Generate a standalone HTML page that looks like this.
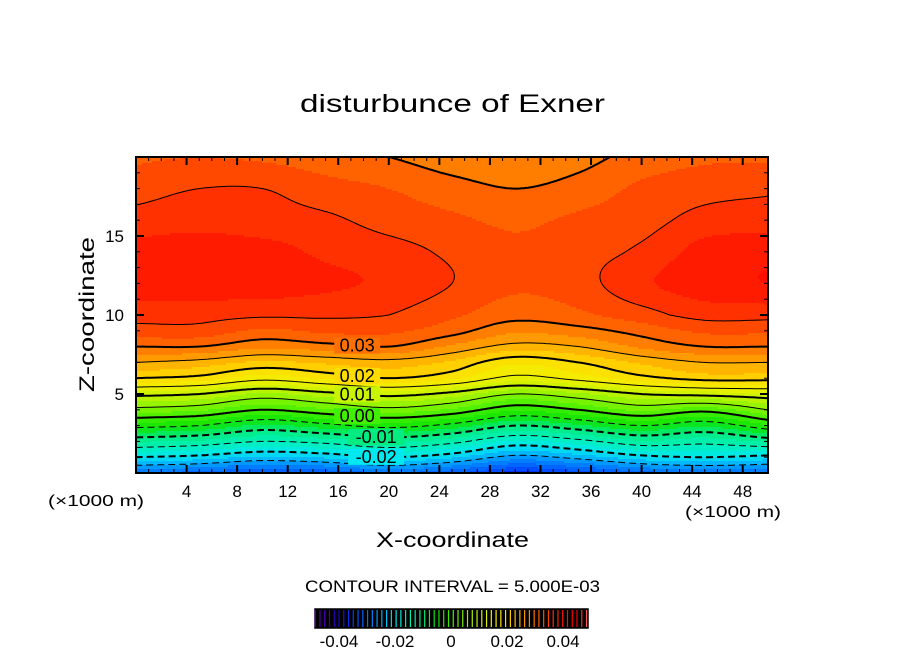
<!DOCTYPE html>
<html><head><meta charset="utf-8">
<style>
html,body{margin:0;padding:0;background:#fff;}
svg{display:block;font-family:"Liberation Sans",sans-serif;}
</style></head>
<body>
<svg id="chart" width="904" height="654" viewBox="0 0 904 654" xmlns="http://www.w3.org/2000/svg">
<rect width="904" height="654" fill="#fff"/>
<text x="300" y="112" font-size="25" textLength="305" lengthAdjust="spacingAndGlyphs">disturbunce of Exner</text>
<g id="field"></g>
<g id="lines"></g>
<g id="labels"></g>
<g id="axes"></g>
<text transform="translate(94,392) rotate(-90)" font-size="21" textLength="155" lengthAdjust="spacingAndGlyphs">Z-coordinate</text>
<text x="376" y="547" font-size="21" textLength="153" lengthAdjust="spacingAndGlyphs">X-coordinate</text>
<text x="48" y="506" font-size="16" textLength="96" lengthAdjust="spacingAndGlyphs">(×1000 m)</text>
<text x="685" y="517" font-size="16" textLength="96" lengthAdjust="spacingAndGlyphs">(×1000 m)</text>
<text x="305" y="592" font-size="17" textLength="295" lengthAdjust="spacingAndGlyphs">CONTOUR INTERVAL = 5.000E-03</text>
<g id="cbar"></g>
</svg>
<script>
// grid coordinates (x in 1000 m, z)
const xs = [0,5,10,15,20,25,30,35,40,45,50];
const zs = [0,1,2,3,4,5,6,7,8,9,10,12,14,16,18,20];
// field values ×1e-3, one row per z
const row_z0  = [-30,-31,-33,-32,-30,-32,-36,-34,-31,-30,-30];
const row_z1  = [-20,-21,-23,-22,-20,-22,-26,-24,-21,-20,-21];
const row_z2  = [-12,-13,-15,-14,-12,-14,-18,-16,-13,-14,-12];
const row_z3  = [-4,-5,-8,-6,-4,-6,-10,-8,-5,-7,-3];
const row_z4  = [4,3,0,2,4,2,-2,0,3,1,5];
const row_z5  = [11,10,7,9,11,9,5,7,10,11,12];
const row_z6  = [20,19,16,18,20,18,14,16,19,21,21];
const row_z7  = [25,24,22,23,24,22,18,20,23,25,25];
const row_z8  = [30,30,28,29,30,27,24,25,28,30,30];
const row_z9  = [34,34,32,33,33,31,28,29,31,33,33];
const row_z10 = [36,36,35.5,35.5,35,33,31,32,34,36,36];
const row_z12 = [39,39,39,38,37,35,33,34,37,39,40];
const row_z14 = [38.5,39,38.5,37,36,34.5,33,34,35.5,38.5,39];
const row_z16 = [36,36.5,36,35.5,34,33,32,33,34,36,36.5];
const row_z18 = [34,35,35,33.5,32.5,31,30,31,33,34,34.5];
const row_z20 = [32,32.5,32,31,30,28.5,28,29,31,32,32];
const rows = [row_z0,row_z1,row_z2,row_z3,row_z4,row_z5,row_z6,row_z7,row_z8,row_z9,row_z10,row_z12,row_z14,row_z16,row_z18,row_z20];
const levels = [-25,-20,-15,-10,-5,0,5,10,15,20,25,30,35];
const labelLevels = [30,20,10,0,-10,-20];
const labelTexts = ["0.03","0.02","0.01","0.00","-0.01","-0.02"];
const xTicks = [4,8,12,16,20,24,28,32,36,40,44,48];
const zTicks = [5,10,15];
const cbarTicks = [-40,-20,0,20,40];
const cbarTickText = ["-0.04","-0.02","0","0.02","0.04"];
// colormap keys (×1e-3)
const cmapV = [-50,-40,-35,-30,-25,-20,-15,-10,-5,0,5,10,15,20,25,30,35,40,45,50];
const cmapC = ["#7000a0","#2000c8","#0040ff","#0070ff","#00a8ff","#00e8f0","#00f0b8","#00ec80","#10e400","#40f000","#88f400","#c8f400","#f0f000","#ffdc00","#ffa800","#ff7000","#ff3c00","#ff1000","#ff0000","#ff8080"];

const NS="http://www.w3.org/2000/svg";
const X0=136,X1=768,Y0=157,Y1=473;
const sx=v=>X0+(v-0)/(50-0)*(X1-X0);
const sz=v=>Y1-(v-0)/(20-0)*(Y1-Y0);
function el(t,a,p){const e=document.createElementNS(NS,t);for(const k in a)e.setAttribute(k,a[k]);p.appendChild(e);return e;}
function hex(c){return [1,3,5].map(i=>parseInt(c.substr(i,2),16));}
function color(v){
  if(v<=cmapV[0])return cmapC[0];
  for(let i=1;i<cmapV.length;i++){if(v<=cmapV[i]){const t=(v-cmapV[i-1])/(cmapV[i]-cmapV[i-1]);const a=hex(cmapC[i-1]),b=hex(cmapC[i]);return "rgb("+a.map((q,j)=>Math.round(q+(b[j]-q)*t)).join(",")+")";}}
  return cmapC[cmapC.length-1];
}
function idx(arr,v){let i=0;while(i<arr.length-2&&v>arr[i+1])i++;return i;}
// Catmull-Rom 1D interpolation
function cr(arr,vals,v){
  const i=idx(arr,v);const t=Math.min(1,Math.max(0,(v-arr[i])/(arr[i+1]-arr[i])));
  const p1=vals[i],p2=vals[i+1];
  const p0=i>0?vals[i-1]:2*p1-p2,p3=i+2<vals.length?vals[i+2]:2*p2-p1;
  const r=0.5*((2*p1)+(-p0+p2)*t+(2*p0-5*p1+4*p2-p3)*t*t+(-p0+3*p1-3*p2+p3)*t*t*t);
  return r;
}
const colCache={};
function field(x,z){
  const col=rows.map(r=>cr(xs,r,x));
  return cr(zs,col,z);
}
// sample grid
const STEP=2;
const nx=Math.ceil((X1-X0)/STEP),nz=Math.ceil((Y1-Y0)/STEP);
const G=[];
for(let j=0;j<=nz;j++){G.push([]);const py=Y0+j*STEP;const z=(Y1-Math.min(py,Y1))/(Y1-Y0)*20;
  for(let i=0;i<=nx;i++){const px=X0+i*STEP;const x=(Math.min(px,X1)-X0)/(X1-X0)*50;G[j].push(field(x,z));}}
const fg=document.getElementById('field');
const band=v=>Math.floor(v/2.5);
for(let j=0;j<nz;j++){
  let start=0,cur=null;
  const vals=[];for(let i=0;i<nx;i++)vals.push((G[j][i]+G[j][i+1]+G[j+1][i]+G[j+1][i+1])/4);
  for(let i=0;i<=nx;i++){
    const b=i<nx?band(vals[i]):null;
    if(i===0){cur=b;start=0;continue;}
    if(b!==cur){
      const r=el('rect',{x:X0+start*STEP,y:Y0+j*STEP,width:Math.min((i-start)*STEP,X1-X0-start*STEP)+0.5,height:Math.min(STEP,Y1-Y0-j*STEP)+0.5,fill:color(cur*2.5+1.25)},fg);
      
      
      cur=b;start=i;
    }
  }
}
// marching squares with chaining
const lg=document.getElementById('lines');
levels.forEach(L=>{
  const segs=[];
  for(let j=0;j<nz;j++)for(let i=0;i<nx;i++){
    const p=[[i,j,G[j][i]],[i+1,j,G[j][i+1]],[i+1,j+1,G[j+1][i+1]],[i,j+1,G[j+1][i]]];
    const pts=[];
    for(let k=0;k<4;k++){const A=p[k],B=p[(k+1)%4];
      if((A[2]<L)!==(B[2]<L)){const t=(L-A[2])/(B[2]-A[2]);pts.push([X0+(A[0]+(B[0]-A[0])*t)*STEP,Y0+(A[1]+(B[1]-A[1])*t)*STEP]);}}
    if(pts.length===2)segs.push(pts);else if(pts.length===4){segs.push([pts[0],pts[1]]);segs.push([pts[2],pts[3]]);}
  }
  const key=p=>Math.round(p[0]*100)+","+Math.round(p[1]*100);
  const map={};segs.forEach((s,k)=>{[0,1].forEach(e=>{const kk=key(s[e]);(map[kk]=map[kk]||[]).push([k,e]);});});
  const used=new Array(segs.length).fill(false);let d="";
  for(let k=0;k<segs.length;k++){if(used[k])continue;used[k]=true;
    let chain=[segs[k][0],segs[k][1]];
    for(const dir of [1,0]){let end=dir?chain[chain.length-1]:chain[0];
      while(true){const c=(map[key(end)]||[]).find(q=>!used[q[0]]);if(!c)break;used[c[0]]=true;const np=segs[c[0]][1-c[1]];
        if(dir)chain.push(np);else chain.unshift(np);end=np;}}
    d+="M"+chain.map(p=>p[0].toFixed(1)+" "+p[1].toFixed(1)).join("L");
  }
  const thick=(L%10===0);
  const path=el('path',{d:d,fill:'none',stroke:'#000','stroke-width':thick?2:1,'stroke-dasharray':L<0?'7 4':'none','stroke-linejoin':'round'},lg);
  
  
});
// labels
const lb=document.getElementById('labels');
labelLevels.forEach((L,k)=>{
  const xl=[17.5,17.5,17.5,17.5,19,19][k];
  let zf=0;for(let z=0;z<20;z+=0.02){if(field(xl,z)>=L){zf=z;break;}}
  const cx=sx(xl),cy=sz(zf);
  const w=labelTexts[k].length*10;
  const bg=el('rect',{x:cx-w/2-3,y:cy-8,width:w+6,height:16,fill:color(L)},lb);
  
  
  const t=el('text',{x:cx,y:cy+6,'text-anchor':'middle','font-size':18},lb);
  t.textContent=labelTexts[k];
  
  
});
// axes
const ax=document.getElementById('axes');
const fr=el('rect',{x:X0,y:Y0,width:X1-X0,height:Y1-Y0,fill:'none',stroke:'#000','stroke-width':2},ax);


for(let v=1;v<50;v++){const maj=xTicks.includes(v);const x=sx(v),len=maj?8:4;
  el('line',{x1:x,y1:Y1,x2:x,y2:Y1-len,stroke:'#000','stroke-width':maj?2:1},ax);
  el('line',{x1:x,y1:Y0,x2:x,y2:Y0+len,stroke:'#000','stroke-width':maj?2:1},ax);}
for(let v=1;v<20;v++){const maj=zTicks.includes(v);const y=sz(v),len=maj?8:4;
  el('line',{x1:X0,y1:y,x2:X0+len,y2:y,stroke:'#000','stroke-width':maj?2:1},ax);
  el('line',{x1:X1,y1:y,x2:X1-len,y2:y,stroke:'#000','stroke-width':maj?2:1},ax);}
xTicks.forEach(v=>{const t=el('text',{x:sx(v),y:497,'text-anchor':'middle','font-size':17},ax);t.textContent=v;
  
  });
zTicks.forEach(v=>{const t=el('text',{x:124,y:sz(v)+6,'text-anchor':'end','font-size':17},ax);t.textContent=v;
  
  });
// colorbar
const cb=document.getElementById('cbar');
const cx=v=>451+v*(56/20);
el('rect',{x:315,y:609,width:273,height:19,fill:'#000',stroke:'#000','stroke-width':1.5},cb);
for(let v=-48.5;v<=49;v+=1.7){const l=el('line',{x1:cx(v),y1:610,x2:cx(v),y2:627,stroke:color(v),'stroke-width':1.2},cb);
  
  }
cbarTicks.forEach((v,k)=>{const t=el('text',{x:cx(v),y:647,'text-anchor':'middle','font-size':17},cb);t.textContent=cbarTickText[k];
  
  });
</script>
</body></html>
